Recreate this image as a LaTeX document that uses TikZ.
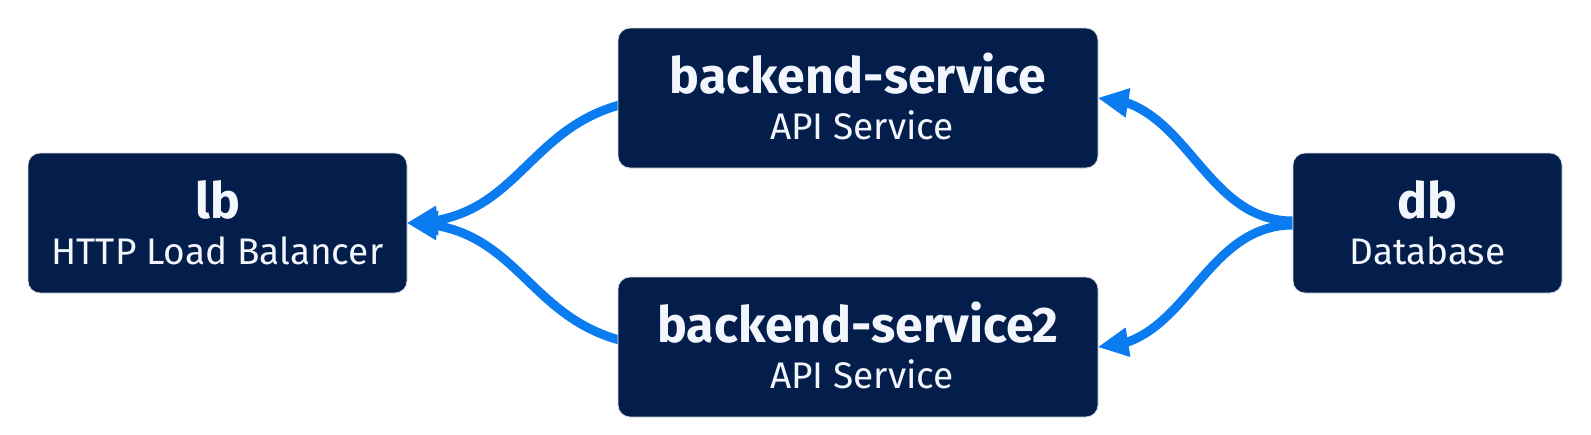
\documentclass[tikz,border=0pt]{standalone}
\usepackage{fontspec}
\setmainfont{Fira Sans}
\usetikzlibrary{calc,arrows.meta,bending,backgrounds}
\definecolor{navy}{HTML}{031E4A}
\definecolor{edgeblue}{HTML}{0B7BF0}
\definecolor{txt}{HTML}{F4F6FD}
\definecolor{rim}{HTML}{D5D9E0}
\begin{document}
\begin{tikzpicture}[x=1pt,y=-1pt,
  svc/.style={rectangle, rounded corners=12pt, fill=navy, draw=rim, line width=0.8pt, inner sep=0pt, minimum height=140pt},
  ttl/.style={anchor=base, text=txt, font=\fontsize{50}{56}\selectfont\bfseries, inner sep=0pt},
  sub/.style={anchor=base, text=txt, font=\fontsize{37}{42}\selectfont, inner sep=0pt},
  edge/.style={draw=edgeblue, line width=9pt, -{Triangle[length=30pt,width=30pt,line width=0pt,flex]}}]
\path[use as bounding box] (0,0) rectangle (1591,434);
\node[svc, minimum width=379pt] (lb) at (217.5,223) {};
\node[svc, minimum width=480pt] (bs) at (858,98) {};
\node[svc, minimum width=480pt] (bs2) at (858,347) {};
\node[svc, minimum width=269pt] (db) at (1427.5,223) {};
\node[ttl] (lbt) at ($(lb.center)+(0,-5)$) {lb};
\node[sub] (lbs) at ($(lb.center)+(0,41)$) {HTTP Load Balancer};
\node[ttl] (bst) at ($(bs.center)+(0,-5)$) {backend-service};
\node[sub] (bss) at ($(bs.center)+(4,41)$) {API Service};
\node[ttl] (bs2t) at ($(bs2.center)+(0,-5)$) {backend-service2};
\node[sub] (bs2s) at ($(bs2.center)+(4,41)$) {API Service};
\node[ttl] (dbt) at ($(db.center)+(0,-5)$) {db};
\node[sub] (dbs) at ($(db.center)+(0,41)$) {Database};
\begin{scope}[on background layer]
\draw[edge] ($(bs.west)+(58,0)$) .. controls ($(bs.west)+(-93,0)$) and ($(lb.east)+(126,0)$) .. (lb.east);
\draw[edge] ($(bs2.west)+(58,0)$) .. controls ($(bs2.west)+(-93,0)$) and ($(lb.east)+(126,0)$) .. (lb.east);
\draw[edge] ($(db.west)+(0,-2)$) .. controls ($(db.west)+(-90,-2)$) and ($(bs.east)+(88,0)$) .. (bs.east);
\draw[edge] ($(db.west)+(0,2)$) .. controls ($(db.west)+(-90,2)$) and ($(bs2.east)+(88,0)$) .. (bs2.east);
\end{scope}
\end{tikzpicture}
\end{document}
